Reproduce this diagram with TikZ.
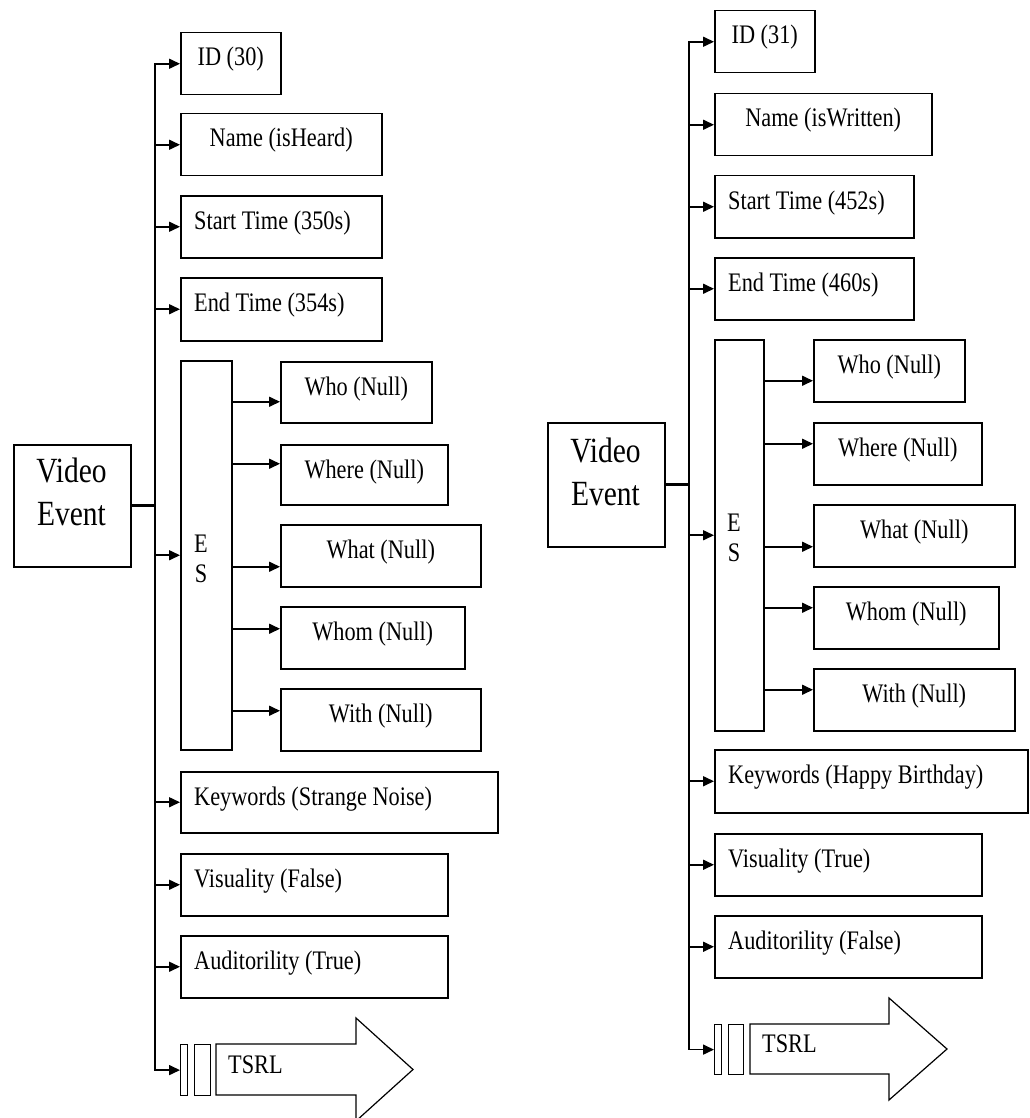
\documentclass[tikz,border=0pt]{standalone}
\usepackage{graphicx}
\usepackage{fontspec}
\setmainfont{Liberation Serif}
\usetikzlibrary{arrows.meta}

% text slightly stretched vertically
\newcommand{\tallt}[1]{\scalebox{1}[1.2]{#1}}
% box by corners: name, x1, y1, x2, y2
\newcommand{\mkbox}[5]{\node[box,minimum width={#4-#2},minimum height={#5-#3}] (#1) at (#2,#3) {};}
\newcommand{\mkbar}[5]{\node[bar,minimum width={#4-#2},minimum height={#5-#3}] (#1) at (#2,#3) {};}
% left-aligned and centred labels inside a box
\newcommand{\ltxt}[3]{\node[lbl,anchor=base west] (#1) at ([xshift=14pt,yshift=-34pt]#2.north west) {\tallt{#3}};}
\newcommand{\ctxt}[3]{\node[lbl,anchor=base] (#1) at ([yshift=-34pt]#2.north) {\tallt{#3}};}
% arrow from the ES column to a sub-box, shifted from its centre
\newcommand{\subarrow}[3]{\coordinate (#2-in) at ([yshift=#3]#2.west); \draw[conn] (#1.east |- #2-in) -- (#2-in);}

\begin{document}
\begin{tikzpicture}[x=1pt,y=-1pt,
  box/.style={draw, line width=1.5pt, inner sep=0pt, anchor=north west},
  bar/.style={draw, line width=1.2pt, inner sep=0pt, anchor=north west},
  lbl/.style={inner sep=0pt, font=\fontsize{22.3}{26}\selectfont},
  conn/.style={line width=1.6pt, -{Triangle[length=11pt,width=10pt]}},
  both/.style={line width=1.6pt, {Triangle[length=11pt,width=10pt]}-{Triangle[length=11pt,width=10pt]}},
  trunk/.style={line width=2.8pt},
  bigarrow/.style={draw, line width=1.2pt, line join=miter}
]
\useasboundingbox (0,0) rectangle (1029,1118);
\clip (0,0) rectangle (1029,1118);
\fill[white] (0,0) rectangle (1029,1118);

% ===================== first event =====================
\coordinate (L1) at (155,0);
\mkbox{ve1}{13}{444}{130}{566}
\node[lbl, align=center, font=\fontsize{29.5}{43}\selectfont] (ve1t) at (71.5,492) {\tallt{Video}\\\tallt{Event}};

\mkbox{id1}{180}{32}{280}{94}       \ctxt{id1t}{id1}{ID (30)}
\mkbox{name1}{180}{113}{381}{175}   \ctxt{name1t}{name1}{Name (isHeard)}
\mkbox{start1}{180}{195}{381}{257}  \ltxt{start1t}{start1}{Start Time (350s)}
\mkbox{end1}{180}{277}{381}{340}    \ltxt{end1t}{end1}{End Time (354s)}
\mkbox{es1}{180}{360}{231}{749}
\node[lbl, align=center, font=\fontsize{22.3}{30}\selectfont] (es1t) at (201,559) {\tallt{E}\\\tallt{S}};
\mkbox{who1}{280}{361}{431}{422}    \ctxt{who1t}{who1}{Who (Null)}
\mkbox{where1}{280}{444}{447}{504}  \ctxt{where1t}{where1}{Where (Null)}
\mkbox{what1}{280}{524}{480}{586}   \ctxt{what1t}{what1}{What (Null)}
\mkbox{whom1}{280}{606}{464}{668}   \ctxt{whom1t}{whom1}{Whom (Null)}
\mkbox{with1}{280}{688}{480}{750}   \ctxt{with1t}{with1}{With (Null)}
\mkbox{kw1}{180}{771}{497}{832}     \ltxt{kw1t}{kw1}{Keywords (Strange Noise)}
\mkbox{vis1}{180}{853}{447}{915}    \ltxt{vis1t}{vis1}{Visuality (False)}
\mkbox{aud1}{180}{935}{447}{997}    \ltxt{aud1t}{aud1}{Auditorility (True)}
\mkbar{bar1a}{180}{1044}{187}{1095}
\mkbar{bar1b}{194}{1044}{210}{1095}
\draw[bigarrow] (216,1044) -- (356,1044) -- (356,1018) -- (413,1069.5) -- (356,1121) -- (356,1095) -- (216,1095) -- cycle;
\node[lbl, anchor=base west] (tsrl1) at (228,1073) {\tallt{TSRL}};

\draw[trunk] (ve1.east) -- (L1 |- ve1.east);
\draw[both] (id1.west) -- (L1 |- id1.west) -- (L1 |- bar1a.west) -- (bar1a.west);
\foreach \b in {name1,start1,end1,es1,kw1,vis1,aud1}
  \draw[conn] (L1 |- \b.west) -- (\b.west);
\subarrow{es1}{who1}{-9.5pt}
\subarrow{es1}{where1}{11pt}
\subarrow{es1}{what1}{-11pt}
\subarrow{es1}{whom1}{9pt}
\subarrow{es1}{with1}{9pt}

% ===================== second event =====================
\coordinate (L2) at (689,0);
\mkbox{ve2}{547}{422}{664}{546}
\node[lbl, align=center, font=\fontsize{29.5}{43}\selectfont] (ve2t) at (605.5,472) {\tallt{Video}\\\tallt{Event}};

\mkbox{id2}{714}{10}{814}{72}       \ctxt{id2t}{id2}{ID (31)}
\mkbox{name2}{714}{93}{931}{155}    \ctxt{name2t}{name2}{Name (isWritten)}
\mkbox{start2}{714}{175}{913}{237}  \ltxt{start2t}{start2}{Start Time (452s)}
\mkbox{end2}{714}{257}{913}{319}    \ltxt{end2t}{end2}{End Time (460s)}
\mkbox{es2}{714}{339}{763}{730}
\node[lbl, align=center, font=\fontsize{22.3}{30}\selectfont] (es2t) at (734,538) {\tallt{E}\\\tallt{S}};
\mkbox{who2}{813}{339}{964}{401}    \ctxt{who2t}{who2}{Who (Null)}
\mkbox{where2}{813}{422}{981}{484}  \ctxt{where2t}{where2}{Where (Null)}
\mkbox{what2}{813}{504}{1014}{566}  \ctxt{what2t}{what2}{What (Null)}
\mkbox{whom2}{813}{586}{998}{648}   \ctxt{whom2t}{whom2}{Whom (Null)}
\mkbox{with2}{813}{668}{1014}{730}  \ctxt{with2t}{with2}{With (Null)}
\mkbox{kw2}{714}{749}{1027}{812}    \ltxt{kw2t}{kw2}{Keywords (Happy Birthday)}
\mkbox{vis2}{714}{833}{981}{895}    \ltxt{vis2t}{vis2}{Visuality (True)}
\mkbox{aud2}{714}{915}{981}{977}    \ltxt{aud2t}{aud2}{Auditorility (False)}
\mkbar{bar2a}{714}{1024}{721}{1074}
\mkbar{bar2b}{728}{1024}{743}{1074}
\draw[bigarrow] (750,1024) -- (889,1024) -- (889,998) -- (947,1049) -- (889,1100) -- (889,1074) -- (750,1074) -- cycle;
\node[lbl, anchor=base west] (tsrl2) at (762,1052) {\tallt{TSRL}};

\draw[trunk] (ve2.east) -- (L2 |- ve2.east);
\draw[both] (id2.west) -- (L2 |- id2.west) -- (L2 |- bar2a.west) -- (bar2a.west);
\foreach \b in {name2,start2,end2,es2,kw2,vis2,aud2}
  \draw[conn] (L2 |- \b.west) -- (\b.west);
\subarrow{es2}{who2}{-10pt}
\subarrow{es2}{where2}{10pt}
\subarrow{es2}{what2}{-11pt}
\subarrow{es2}{whom2}{10pt}
\subarrow{es2}{with2}{10pt}
\end{tikzpicture}
\end{document}
